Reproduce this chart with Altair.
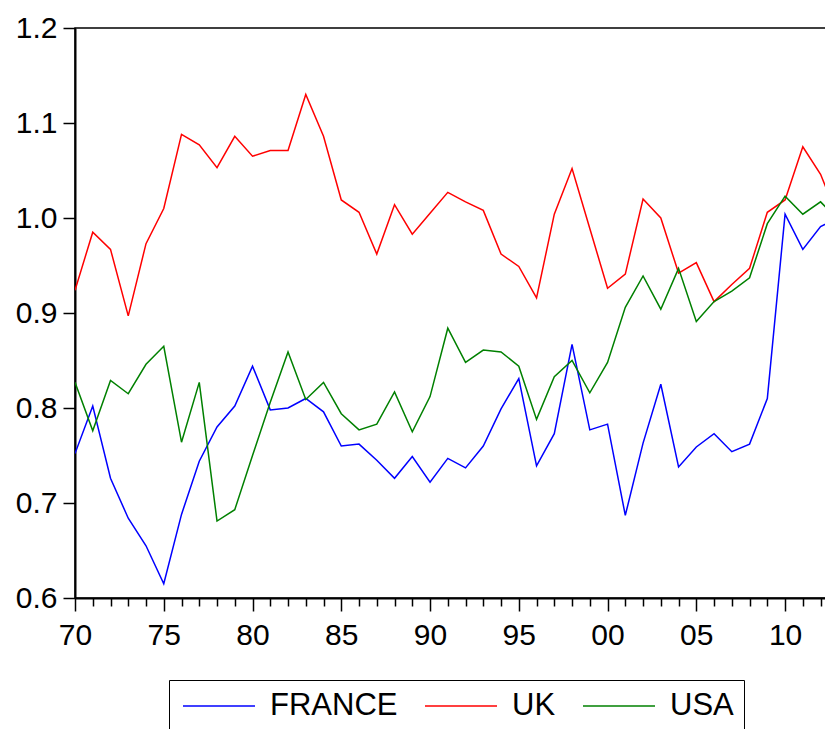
import altair as alt
import pandas as pd

years = list(range(1970, 2014))
france = [0.752, 0.802, 0.726, 0.684, 0.655, 0.615, 0.688, 0.744, 0.780, 0.802,
          0.844, 0.798, 0.800, 0.810, 0.796, 0.760, 0.762, 0.745, 0.726, 0.749,
          0.722, 0.747, 0.737, 0.760, 0.799, 0.831, 0.739, 0.773, 0.867, 0.777,
          0.783, 0.687, 0.763, 0.825, 0.738, 0.759, 0.773, 0.754, 0.762, 0.810,
          1.004, 0.967, 0.991, 1.000]
uk = [0.924, 0.985, 0.967, 0.897, 0.973, 1.010, 1.088, 1.077, 1.053, 1.086,
      1.065, 1.071, 1.071, 1.130, 1.086, 1.019, 1.006, 0.962, 1.014, 0.983,
      1.005, 1.027, 1.017, 1.008, 0.962, 0.949, 0.916, 1.004, 1.052, 0.989,
      0.926, 0.941, 1.020, 1.000, 0.942, 0.953, 0.912, 0.930, 0.947, 1.006,
      1.019, 1.075, 1.046, 1.000]
usa = [0.827, 0.776, 0.829, 0.815, 0.846, 0.865, 0.764, 0.827, 0.681, 0.693,
       0.750, 0.806, 0.859, 0.809, 0.827, 0.794, 0.777, 0.783, 0.817, 0.775,
       0.812, 0.884, 0.848, 0.861, 0.859, 0.844, 0.788, 0.833, 0.850, 0.816,
       0.848, 0.906, 0.939, 0.904, 0.947, 0.891, 0.912, 0.923, 0.937, 0.994,
       1.023, 1.004, 1.017, 0.998]

series = ["FRANCE", "UK", "USA"]
colors = ["#0000FF", "#FF0000", "#008000"]
y_ticks = [0.6, 0.7, 0.8, 0.9, 1.0, 1.1, 1.2]

rows = []
for name, vals in zip(series, [france, uk, usa]):
    for yr, v in zip(years, vals):
        rows.append({"year": yr, "value": v, "country": name})
df = pd.DataFrame(rows)

FONT = "Liberation Sans"

chart = alt.Chart(df).mark_line(strokeWidth=1.5, clip=True).encode(
    x=alt.X("year:Q",
            scale=alt.Scale(domain=[1970, 2012.7], nice=False, zero=False),
            axis=alt.Axis(
                values=years, title=None, grid=False,
                format="d",
                labelExpr="datum.value % 5 === 0 ? substring(datum.label, 2) : ''",
                tickSize={"condition": {"test": "datum.value % 5 === 0", "value": 13}, "value": 8},
                tickColor="black", tickWidth=1.5,
                domainColor="black", domainWidth=2,
                labelFont=FONT, labelFontSize=30, labelColor="black",
                labelPadding=9, labelFlush=False, labelOverlap=False,
            )),
    y=alt.Y("value:Q",
            scale=alt.Scale(domain=[0.6, 1.2], nice=False, zero=False),
            axis=alt.Axis(
                values=y_ticks, format=".1f", title=None, grid=False,
                tickSize=12, tickColor="black", tickWidth=1.5,
                domainColor="black", domainWidth=2,
                labelFont=FONT, labelFontSize=30, labelColor="black",
                labelPadding=6,
            )),
    color=alt.Color("country:N",
                    scale=alt.Scale(domain=series, range=colors),
                    legend=alt.Legend(
                        orient="none", direction="horizontal",
                        legendX=94, legendY=652,
                        title=None,
                        symbolType="M-2.4,0H2.4", symbolSize=900,
                        symbolStrokeWidth=1.5, symbolOffset=24,
                        labelFont=FONT, labelFontSize=31, labelColor="black",
                        labelOffset=35, columnPadding=23,
                        strokeColor="black", fillColor="white", padding=10,
                    )),
).properties(
    width=758, height=570,
    autosize=alt.AutoSizeParams(type="none"),
    padding={"left": 67, "top": 20, "right": -8, "bottom": 131},
    background="white",
).configure_view(stroke="black", strokeWidth=1.5)

chart.save("out.html", embed_options={"renderer": "svg", "actions": False})
